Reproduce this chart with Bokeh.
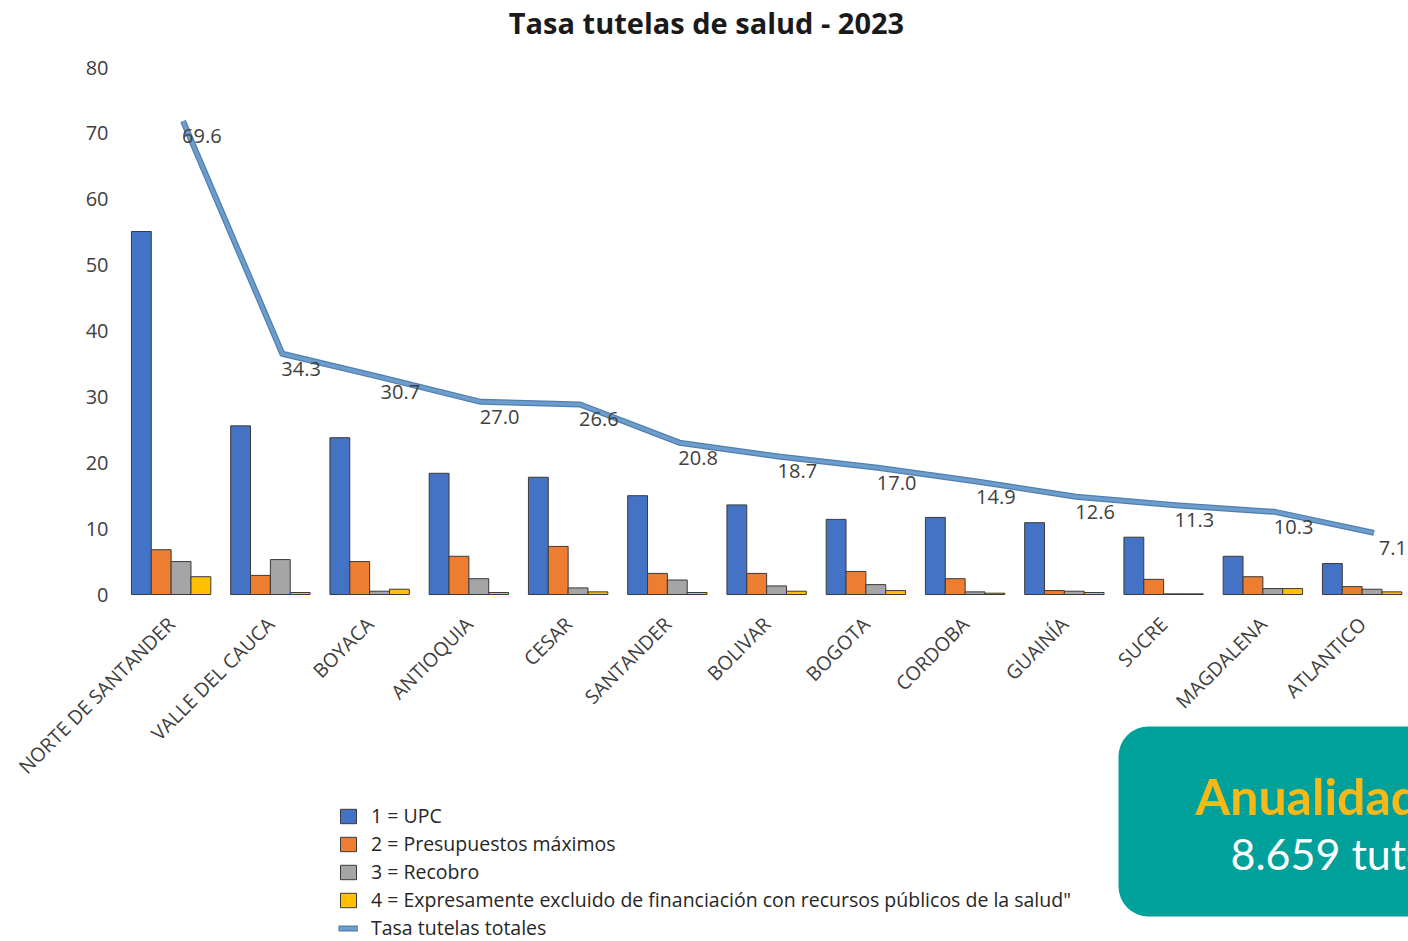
import math
from bokeh.plotting import figure
from bokeh.models import (Range1d, FixedTicker, ColumnDataSource, Legend,
                          LegendItem, Label)
from bokeh.transform import dodge
from bokeh.core.properties import value
from bokeh.embed import file_html
from bokeh.resources import INLINE

# ---------------- data ----------------
departamentos = ["NORTE DE SANTANDER", "VALLE DEL CAUCA", "BOYACA", "ANTIOQUIA",
                 "CESAR", "SANTANDER", "BOLIVAR", "BOGOTA", "CORDOBA", "GUAINÍA",
                 "SUCRE", "MAGDALENA", "ATLANTICO"]
upc = [55.1, 25.6, 23.8, 18.4, 17.8, 15.0, 13.6, 11.4, 11.7, 10.9, 8.7, 5.8, 4.7]
presupuestos = [6.8, 2.9, 5.0, 5.8, 7.3, 3.2, 3.2, 3.5, 2.4, 0.6, 2.3, 2.7, 1.2]
recobro = [5.0, 5.3, 0.5, 2.4, 1.0, 2.2, 1.3, 1.5, 0.4, 0.5, 0.1, 0.9, 0.8]
excluido = [2.7, 0.3, 0.8, 0.3, 0.4, 0.3, 0.5, 0.6, 0.2, 0.3, 0.1, 0.9, 0.4]
tasa_total = [69.6, 34.3, 30.7, 27.0, 26.6, 20.8, 18.7, 17.0, 14.9, 12.6, 11.3, 10.3, 7.1]
y_ticks = [0, 10, 20, 30, 40, 50, 60, 70, 80]

serie_nombres = ["1 = UPC", "2 = Presupuestos máximos", "3 = Recobro",
                 "4 = Expresamente excluido de financiación con recursos públicos de la salud\""]
linea_nombre = "Tasa tutelas totales"
titulo = "Tasa tutelas de salud - 2023"
caja_titulo = "Anualidad 2023"
caja_texto = "8.659 tutelas"

# ---------------- styles ----------------
colores = ["#4472C4", "#ED7D31", "#A5A5A5", "#FFC000"]
offsets = [-0.3, -0.1, 0.1, 0.3]
bar_w = 0.2
txt_color = "#404040"
FONT = "Open Sans"

idx = list(range(len(departamentos)))
src = ColumnDataSource(dict(
    x=idx, upc=upc, pre=presupuestos, rec=recobro, exc=excluido,
    tasa=tasa_total, tasa_lbl=[f"{v:.1f}" for v in tasa_total],
))

W, H = 1408, 941
plot_left = 121            # x pixel of the left edge of the first category
y0_px, y80_px = 594, 67
ppu = (y0_px - y80_px) / 80.0
cat_px = 99.25
x_start = -0.5 - plot_left / cat_px
x_end = -0.5 + (W - plot_left) / cat_px
y_start = -(H - y0_px) / ppu
y_end = 80 + y80_px / ppu
shift = 2.25

p = figure(width=W, height=H, output_backend="svg", toolbar_location=None,
           x_range=Range1d(x_start, x_end), y_range=Range1d(y_start, y_end),
           min_border_left=0, min_border_right=0, min_border_top=0,
           min_border_bottom=0, outline_line_color=None,
           background_fill_color="white", border_fill_color="white")
p.title.text = ""
p.xgrid.visible = False
p.ygrid.visible = False
p.extra_y_ranges = {"line": Range1d(y_start - shift, y_end - shift)}

cols = ["upc", "pre", "rec", "exc"]
bar_renderers = []
for c, col, off in zip(cols, colores, offsets):
    r = p.vbar(x=dodge("x", off), top=c, width=bar_w, bottom=0, source=src,
               fill_color=col, line_color="#3a3a3a", line_width=1)
    bar_renderers.append(r)

l1 = p.line(x=dodge("x", 0.12), y="tasa", source=src, y_range_name="line",
            line_color="#4f7fae", line_width=6, line_join="round")
l2 = p.line(x=dodge("x", 0.12), y="tasa", source=src, y_range_name="line",
            line_color="#6c9dcc", line_width=3.5, line_join="round")
p.text(x=dodge("x", 0.31), y="tasa", text="tasa_lbl", source=src,
       y_range_name="line", y_offset=15, text_align="center",
       text_baseline="middle", text_font=value(FONT), text_font_size="20px",
       text_color=txt_color)

# axes
xa = p.xaxis[0]
xa.fixed_location = 0
xa.ticker = FixedTicker(ticks=idx)
xa.major_label_overrides = {i: n for i, n in enumerate(departamentos)}
xa.major_label_orientation = math.pi / 4
xa.axis_line_color = None
xa.major_tick_line_color = None
xa.minor_tick_line_color = None
xa.major_tick_out = 0
xa.major_label_standoff = 26
xa.major_label_text_font = FONT
xa.major_label_text_font_size = "19.5px"
xa.major_label_text_color = txt_color

ya = p.yaxis[0]
ya.fixed_location = -0.5
ya.ticker = FixedTicker(ticks=y_ticks)
ya.axis_line_color = None
ya.major_tick_line_color = None
ya.minor_tick_line_color = None
ya.major_tick_out = 0
ya.major_label_standoff = 13
ya.major_label_text_font = FONT
ya.major_label_text_font_size = "20px"
ya.major_label_text_color = txt_color

# legend
items = [LegendItem(label=n, renderers=[r]) for n, r in zip(serie_nombres, bar_renderers)]
items.append(LegendItem(label=linea_nombre, renderers=[l1, l2]))
leg = Legend(items=items, location=(338, 0), orientation="vertical",
             glyph_width=20, glyph_height=18, label_height=20, spacing=1,
             padding=0, margin=0, border_line_color=None,
             background_fill_alpha=0, label_text_font=FONT,
             label_text_font_size="19.5px", label_text_color="#262626",
             label_standoff=13)
p.add_layout(leg, "center")

# title
p.add_layout(Label(x=706, y=H - 22, x_units="screen", y_units="screen",
                   text=titulo, text_align="center", text_baseline="middle",
                   text_font=FONT, text_font_style="bold", text_font_size="29px",
                   text_color="#1a1a1a"))

# teal box
p.add_layout(Label(x=1118, y=H - 821, x_units="screen", y_units="screen",
                   text=caja_titulo, text_align="left", text_baseline="alphabetic",
                   text_font="Lato", text_font_style="bold", text_font_size="50px",
                   text_color="#F6B917", background_fill_color="#00A19A",
                   border_radius=30,
                   padding=dict(left=77, right=320, top=39, bottom=91)))
p.add_layout(Label(x=1230, y=H - 853, x_units="screen", y_units="screen",
                   text=caja_texto, text_align="left", text_baseline="alphabetic",
                   text_font="Lato", text_font_size="43px",
                   text_color="white"))

open("out.html", "w").write(file_html(p, INLINE))
